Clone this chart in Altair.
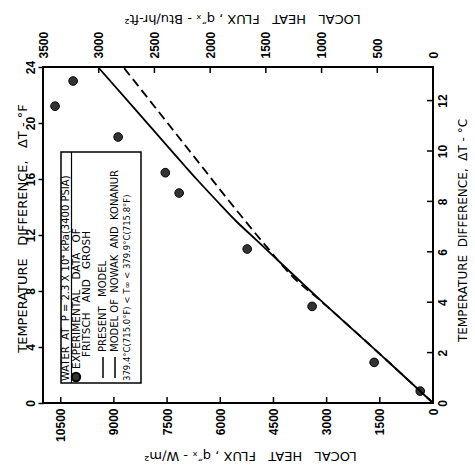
import altair as alt
import pandas as pd

# ---------------- data ----------------
exp_q = [10660, 10150, 8880, 7550, 7160, 5240, 3410, 1660, 360]      # W/m^2
exp_dT = [21.2, 23.0, 19.0, 16.45, 15.0, 11.0, 6.9, 2.9, 0.85]        # deg F

present_q = [0, 1283, 3199, 4965, 5557, 6121, 6671, 7024, 8510, 9450]
present_dT = [0, 3.0, 7.4, 11.6, 13.0, 14.5, 16.0, 17.0, 21.3, 24.0]

nowak_q = [0, 1283, 3216, 3949, 4739, 5774, 6677, 7862, 8736]
nowak_dT = [0, 3.0, 7.4, 9.0, 11.3, 14.5, 17.4, 21.2, 24.0]

si_ticks = [0, 1500, 3000, 4500, 6000, 7500, 9000, 10500]
btu_ticks = [0, 500, 1000, 1500, 2000, 2500, 3000, 3500]
degF_ticks = [0, 4, 8, 12, 16, 20, 24]
degC_ticks = [0, 2, 4, 6, 8, 10, 12]

FONT = "DejaVu Sans"
LFONT = "Liberation Sans"
W, H = 390, 336
S = "\u00a0"  # non-collapsing space

exp_df = pd.DataFrame({"q": exp_q, "dT": exp_dT})
pres_df = pd.DataFrame({"q": present_q, "dT": present_dT, "o": range(len(present_q))})
nowak_df = pd.DataFrame({"q": nowak_q, "dT": nowak_dT, "o": range(len(nowak_q))})
one = pd.DataFrame({"k": [0]})

lab = dict(labelFont=LFONT, labelFontSize=12, labelFontWeight="bold", labelColor="black",
           labelFlush=False, labelAngle=270, grid=False, domain=False)
tit = dict(titleFont=FONT, titleFontWeight="normal", titleColor="black",
           titleAlign="center", titleBaseline="middle")

flux = "LOCAL" + S * 3 + "HEAT" + S * 3 + "FLUX" + S + "," + S + "q\u2033\u2093" + S + "-" + S
temp = "TEMPERATURE" + S * 2 + "DIFFERENCE," + S * 2 + "\u0394T" + S + "-" + S
tempF = "TEMPERATURE" + S * 3 + "DIFFERENCE," + S * 3 + "\u0394T" + S + "-" + S

# ---------------- axes ----------------
bottom_axis = alt.Axis(
    orient="bottom", values=si_ticks, format="d", ticks=False,
    labelAlign="right", labelBaseline="middle", labelPadding=5,
    title=flux + "W/m\u00b2", titleAngle=180, titleFontSize=13,
    titleX=207, titleY=52, **lab, **tit,
)
left_axis = alt.Axis(
    orient="left", values=degF_ticks, ticks=True,
    tickSize=5, tickWidth=1.5, tickColor="black",
    labelAlign="center", labelBaseline="bottom", labelPadding=1,
    title=tempF + "\u00b0F", titleAngle=270, titleFontSize=13,
    titleX=-21, titleY=161, **lab, **tit,
)
top_axis = alt.Axis(
    orient="top", values=btu_ticks, format="d", ticks=False,
    labelAlign="left", labelBaseline="middle", labelPadding=9,
    title=flux + "Btu/hr-ft\u00b2", titleAngle=180, titleFontSize=13,
    titleX=199, titleY=-49, **lab, **tit,
)
right_axis = alt.Axis(
    orient="right", values=degC_ticks, ticks=False,
    labelAlign="center", labelBaseline="top", labelPadding=4,
    title=temp + "\u00b0C", titleAngle=270, titleFontSize=12,
    titleX=29, titleY=163, **lab, **tit,
)

xq = alt.X("q:Q", scale=alt.Scale(domain=[0, 11000], reverse=True, nice=False), axis=bottom_axis)
yF = alt.Y("dT:Q", scale=alt.Scale(domain=[0, 24], nice=False), axis=left_axis)

points = alt.Chart(exp_df).mark_circle(size=75, color="#333333", stroke="black",
                                       strokeWidth=1, opacity=1).encode(x=xq, y=yF)
present = alt.Chart(pres_df).mark_line(color="black", strokeWidth=1.8,
                                       interpolate="monotone").encode(x=xq, y=yF, order="o:Q")
nowak = alt.Chart(nowak_df).mark_line(color="black", strokeWidth=1.8, strokeDash=[9, 5],
                                      interpolate="monotone").encode(x=xq, y=yF, order="o:Q")
bottom_ticks = alt.Chart(pd.DataFrame({"q": si_ticks})).mark_rule(
    color="black", strokeWidth=1.5).encode(x=xq, y=alt.value(H - 6), y2=alt.value(H))

# ---------------- legend box ----------------
LX0, LX1, LY0, LY1 = 18, 98, 85, 316
box = alt.Chart(one).mark_rect(fill="white", stroke="black", strokeWidth=1.5).encode(
    x=alt.value(LX0), x2=alt.value(LX1), y=alt.value(LY0), y2=alt.value(LY1))
divider = alt.Chart(one).mark_rule(color="black", strokeWidth=1.2).encode(
    x=alt.value(28.5), y=alt.value(LY0), y2=alt.value(LY1))


def ltext(txt, x, y, size=10):
    return alt.Chart(one).mark_text(angle=270, align="left", baseline="middle",
                                    font=FONT, fontSize=size, color="black").encode(
        x=alt.value(x), y=alt.value(y), text=alt.value(txt))


leg_texts = [
    ltext("WATER" + S * 2 + "AT" + S * 2 + "P" + S + "=" + S + "2.3" + S + "X" + S + "10\u2074" + S
          + "kPa(3400" + S + "PSIA)", 23, 314, 10),
    ltext("EXPERIMENTAL" + S * 3 + "DATA" + S * 3 + "OF", 33.5, 302, 10.5),
    ltext("FRITSCH" + S * 3 + "AND" + S * 3 + "GROSH", 44, 290, 10.5),
    ltext("PRESENT" + S * 3 + "MODEL", 60, 285, 10),
    ltext("MODEL" + S + "OF" + S * 2 + "NOWAK" + S * 2 + "AND" + S * 2 + "KONANUR", 72, 285, 10),
    ltext("379.4\u00b0C(715.0\u00b0F) < T\u221e < 379.9\u00b0C(715.8\u00b0F)", 84, 314, 8.5),
]
leg_dot = alt.Chart(one).mark_circle(size=70, color="#333333", stroke="black", opacity=1).encode(
    x=alt.value(33), y=alt.value(310))
leg_line1 = alt.Chart(one).mark_rule(color="black", strokeWidth=1.5).encode(
    x=alt.value(60), y=alt.value(290), y2=alt.value(311))
leg_line2 = alt.Chart(one).mark_rule(color="black", strokeWidth=1.5).encode(
    x=alt.value(72), y=alt.value(290), y2=alt.value(311))

group1 = alt.layer(points, present, nowak, bottom_ticks, box, divider, *leg_texts,
                   leg_dot, leg_line1, leg_line2)

# ---------------- secondary scales (top / right) ----------------
xb = alt.X("btu:Q", scale=alt.Scale(domain=[0, 3500], reverse=True, nice=False), axis=top_axis)
yC = alt.Y("c:Q", scale=alt.Scale(domain=[0, 24 / 1.8], nice=False), axis=right_axis)
top_ticks = alt.Chart(pd.DataFrame({"btu": btu_ticks})).mark_rule(
    color="black", strokeWidth=1.5).encode(x=xb, y=alt.value(0), y2=alt.value(6))
right_ticks = alt.Chart(pd.DataFrame({"c": degC_ticks})).mark_rule(
    color="black", strokeWidth=1.5).encode(y=yC, x=alt.value(W - 6), x2=alt.value(W))
group2 = alt.layer(top_ticks, right_ticks)

chart = alt.layer(group1, group2).resolve_scale(x="independent", y="independent").properties(
    width=W, height=H, autosize="none",
    padding={"left": 43, "top": 67, "right": 42, "bottom": 68},
    background="white",
).configure_view(stroke="black", strokeWidth=2)

chart.save("out.html", embed_options={"renderer": "svg", "actions": False})
